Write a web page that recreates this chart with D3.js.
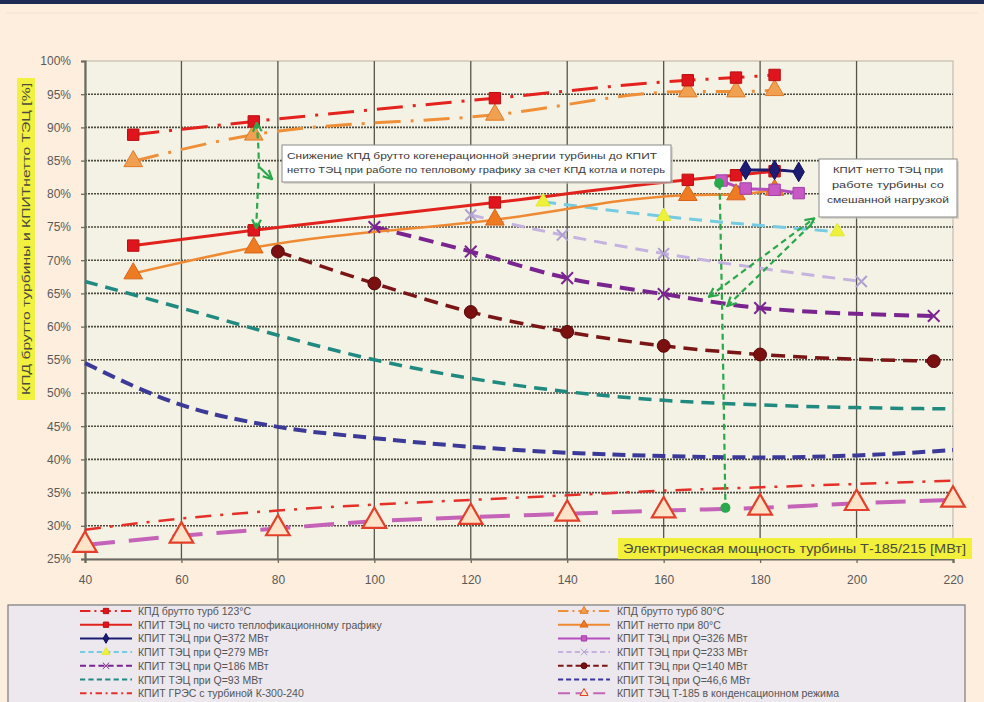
<!DOCTYPE html>
<html>
<head>
<meta charset="utf-8">
<script src="https://cdn.jsdelivr.net/npm/d3@7/dist/d3.min.js"></script>
<style>
  html, body { margin: 0; padding: 0; background: #fdeedd; }
  svg { display: block; font-family: "Liberation Sans", Arial, sans-serif; }
</style>
</head>
<body>
<svg id="chart" width="984" height="702"></svg>
<script>
// Electrical output of the T-185/215 turbine, MW (x-axis ticks)
const xTicks = [40, 60, 80, 100, 120, 140, 160, 180, 200, 220];
const yTicks = [0.25, 0.30, 0.35, 0.40, 0.45, 0.50, 0.55, 0.60, 0.65, 0.70, 0.75, 0.80, 0.85, 0.90, 0.95, 1.00];

// Gross turbine efficiency, 123°C
const grossX123 = [50, 75, 125, 165, 175, 183];
const grossY123 = [0.889, 0.909, 0.944, 0.971, 0.975, 0.979];
// Gross turbine efficiency, 80°C
const grossX80 = [50, 75, 125, 165, 175, 183];
const grossY80 = [0.849, 0.889, 0.919, 0.954, 0.954, 0.956];
// Net CHP efficiency, purely heat-driven schedule
const heatX = [50, 75, 125, 165, 175, 183];
const heatY = [0.722, 0.745, 0.787, 0.821, 0.828, 0.834];
// Net efficiency at 80°C
const net80X = [50, 75, 125, 165, 175, 183];
const net80Y = [0.680, 0.719, 0.761, 0.798, 0.799, 0.806];
// Q = 372 MW
const q372X = [177, 183, 188];
const q372Y = [0.836, 0.836, 0.833];
// Q = 326 MW
const q326X = [172, 177, 183, 188];
const q326Y = [0.820, 0.808, 0.806, 0.801];
// Q = 279 MW
const q279X = [135, 160, 196];
const q279Y = [0.788, 0.766, 0.743];
// Q = 233 MW
const q233X = [120, 139, 160, 201];
const q233Y = [0.768, 0.738, 0.710, 0.668];
// Q = 186 MW
const q186X = [100, 120, 140, 160, 180, 216];
const q186Y = [0.750, 0.713, 0.673, 0.649, 0.628, 0.616];
// Q = 140 MW
const q140X = [80, 100, 120, 140, 160, 180, 216];
const q140Y = [0.713, 0.665, 0.622, 0.592, 0.571, 0.558, 0.548];
// Q = 93 MW
const q93X = [40, 60, 80, 100, 120, 140, 160, 180, 200, 220];
const q93Y = [0.668, 0.628, 0.587, 0.550, 0.522, 0.502, 0.489, 0.482, 0.478, 0.476];
// Q = 46.6 MW
const q47X = [40, 60, 80, 100, 120, 140, 160, 180, 200, 220];
const q47Y = [0.545, 0.482, 0.449, 0.432, 0.419, 0.410, 0.405, 0.403, 0.406, 0.414];
// Condensing power plant, K-300-240 turbine
const grpsX = [40, 60, 80, 100, 120, 140, 160, 180, 200, 220];
const grpsY = [0.294, 0.311, 0.323, 0.332, 0.339, 0.346, 0.353, 0.358, 0.363, 0.368];
// T-185 in condensing mode
const condX = [40, 60, 80, 100, 120, 140, 160, 180, 200, 220];
const condY = [0.271, 0.285, 0.296, 0.307, 0.313, 0.318, 0.323, 0.327, 0.334, 0.339];

// Legend captions
const legendLeft = [
  "КПД брутто турб  123°С",
  "КПИТ ТЭЦ по чисто теплофикационному графику",
  "КПИТ ТЭЦ при Q=372 МВт",
  "КПИТ ТЭЦ при Q=279 МВт",
  "КПИТ ТЭЦ при Q=186 МВт",
  "КПИТ ТЭЦ при Q=93 МВт",
  "КПИТ ГРЭС с турбиной  К-300-240"
];
const legendRight = [
  "КПД брутто турб 80°С",
  "КПИТ нетто  при 80°С",
  "КПИТ ТЭЦ при Q=326 МВт",
  "КПИТ ТЭЦ при Q=233 МВт",
  "КПИТ ТЭЦ при Q=140 МВт",
  "КПИТ ТЭЦ при Q=46,6 МВт",
  "КПИТ ТЭЦ  Т-185 в конденсационном режима"
];

const yTitle = "КПД брутто турбины и КПИТнетто  ТЭЦ  [%]";
const xTitle = "Электрическая мощность турбины Т-185/215   [МВт]";
const note1 = ["Снижение  КПД брутто когенерационной энергии турбины до КПИТ",
               "нетто ТЭЦ  при работе по тепловому графику за счет КПД котла и потерь"];
const note2 = ["КПИТ нетто ТЭЦ при", "работе  турбины со", "смешанной нагрузкой"];

const zip = (xs, ys) => xs.map((x, i) => ({ x, y: ys[i] }));

// Series styles, drawn bottom to top
const series = [
  { name: legendLeft[6], pts: zip(grpsX, grpsY), color: "#e5302a", w: 2.5, dash: "16,9,3,9", sym: null },
  { name: legendRight[6], pts: zip(condX, condY), color: "#c563b8", w: 4, dash: "30,14", sym: "triangle", msize: 240, mfill: "#fde4c8", mstroke: "#e2402a" },
  { name: legendRight[5], pts: zip(q47X, q47Y), color: "#3c3a98", w: 4, dash: "13,7", sym: null },
  { name: legendLeft[5], pts: zip(q93X, q93Y), color: "#208a80", w: 3.5, dash: "13,8", sym: null },
  { name: legendRight[4], pts: zip(q140X, q140Y), color: "#7a1616", w: 3.5, dash: "14,8", sym: "circle", msize: 130, mfill: "#7a1010", mstroke: "#5a0808" },
  { name: legendLeft[4], pts: zip(q186X, q186Y), color: "#7a2490", w: 4, dash: "15,8", sym: "cross", msize: 90, mfill: "#9a40b0", mstroke: "#7a2490" },
  { name: legendRight[3], pts: zip(q233X, q233Y), color: "#c6b2e0", w: 3, dash: "13,8", sym: "cross", msize: 80, mfill: "#c6b2e0", mstroke: "#b0a0d0" },
  { name: legendLeft[3], pts: zip(q279X, q279Y), color: "#74cbe2", w: 3, dash: "13,8", sym: "triangle", msize: 90, mfill: "#eef03a", mstroke: "#e2e830" },
  { name: legendRight[1], pts: zip(net80X, net80Y), color: "#ef8a33", w: 2.5, dash: null, sym: "triangle", msize: 150, mfill: "#ee7a22", mstroke: "#d8661a" },
  { name: legendLeft[1], pts: zip(heatX, heatY), color: "#e2221c", w: 3, dash: null, sym: "square", msize: 130, mfill: "#e0141c", mstroke: "#b81010" },
  { name: legendRight[2], pts: zip(q326X, q326Y), color: "#b54cc0", w: 3, dash: null, sym: "square", msize: 130, mfill: "#c858c4", mstroke: "#a040a8" },
  { name: legendLeft[2], pts: zip(q372X, q372Y), color: "#1c1c72", w: 3, dash: null, sym: "diamond", msize: 110, mfill: "#1c1c72", mstroke: "#10105a" },
  { name: legendRight[0], pts: zip(grossX80, grossY80), color: "#ef9038", w: 3, dash: "26,10,3,10", sym: "triangle", msize: 150, mfill: "#f0a050", mstroke: "#e07a28" },
  { name: legendLeft[0], pts: zip(grossX123, grossY123), color: "#e4221e", w: 3, dash: "26,10,3,10", sym: "square", msize: 130, mfill: "#e0141c", mstroke: "#b81010" }
];

const svg = d3.select("#chart");
const W = 984, H = 702;
const plot = { left: 85, right: 953, top: 61, bottom: 559 };

const x = d3.scaleLinear().domain([40, 220]).range([plot.left, plot.right]);
const y = d3.scaleLinear().domain([0.25, 1.0]).range([plot.bottom, plot.top]);

// page background and header bar
svg.append("rect").attr("width", W).attr("height", H).attr("fill", "#fdeedd");
svg.append("rect").attr("width", W).attr("height", 4).attr("fill", "#1e2c55");
svg.append("line").attr("x1", 6).attr("x2", W - 6).attr("y1", 13).attr("y2", 13)
  .attr("stroke", "#f4e2cf").attr("stroke-width", 1);

// plot area
svg.append("rect")
  .attr("x", plot.left).attr("y", plot.top)
  .attr("width", plot.right - plot.left).attr("height", plot.bottom - plot.top)
  .attr("fill", "#f3f2e5").attr("stroke", "#b8b4a6").attr("stroke-width", 1);

// gridlines
const grid = svg.append("g");
grid.selectAll("line.h").data(yTicks.filter(t => t > 0.25 && t < 1.0)).join("line")
  .attr("x1", plot.left).attr("x2", plot.right)
  .attr("y1", d => y(d)).attr("y2", d => y(d))
  .attr("stroke", "#4a4a3e").attr("stroke-width", 1.6).attr("stroke-dasharray", "2,1");
grid.selectAll("line.v").data(xTicks.filter(t => t > 40 && t < 220)).join("line")
  .attr("x1", d => x(d)).attr("x2", d => x(d))
  .attr("y1", plot.top).attr("y2", plot.bottom)
  .attr("stroke", "#55554a").attr("stroke-width", 1.3);

// axes
const yAxis = svg.append("g").attr("transform", `translate(${plot.left},0)`)
  .call(d3.axisLeft(y).tickValues(yTicks).tickFormat(d3.format(".0%")).tickSize(4).tickPadding(10));
const xAxis = svg.append("g").attr("transform", `translate(0,${plot.bottom})`)
  .call(d3.axisBottom(x).tickValues(xTicks).tickSize(4).tickPadding(12));
[xAxis, yAxis].forEach(a => {
  a.select(".domain").attr("stroke", "#6a6a62").attr("stroke-width", 2.2);
  a.selectAll(".tick line").attr("stroke", "#6a6a62").attr("stroke-width", 1.3);
  a.selectAll(".tick text").attr("fill", "#5a5a5a").attr("font-size", 12)
    .attr("font-family", "'Liberation Sans Narrow', 'Liberation Sans', Arial, sans-serif");
});

// x-axis title on yellow band
svg.append("rect").attr("x", 618).attr("y", 538).attr("width", 354).attr("height", 21).attr("fill", "#f2f03a");
svg.append("text").attr("x", 623).attr("y", 553).attr("font-size", 12).attr("fill", "#4a4a40")
  .attr("textLength", 343).attr("lengthAdjust", "spacingAndGlyphs").text(xTitle);

// y-axis title on yellow band
svg.append("rect").attr("x", 17).attr("y", 78).attr("width", 18).attr("height", 322).attr("fill", "#f2f040");
svg.append("text").attr("transform", "translate(30,239) rotate(-90)")
  .attr("text-anchor", "middle").attr("font-size", 11.5).attr("fill", "#4a4a40")
  .attr("textLength", 312).attr("lengthAdjust", "spacingAndGlyphs").text(yTitle);

// series
const symType = { triangle: d3.symbolTriangle, square: d3.symbolSquare, circle: d3.symbolCircle, diamond: d3.symbolDiamond, cross: d3.symbolTimes };
const line = d3.line().x(d => x(d.x)).y(d => y(d.y)).curve(d3.curveMonotoneX);
const seriesG = svg.append("g");
series.forEach(s => {
  seriesG.append("path").datum(s.pts)
    .attr("d", line).attr("fill", "none")
    .attr("stroke", s.color).attr("stroke-width", s.w)
    .attr("stroke-dasharray", s.dash).attr("stroke-linecap", "butt");
});

// annotation arrows (green, dashed)
const ann = svg.append("g");
const green = "#2aa84a";
const defs = svg.append("defs");
defs.append("marker").attr("id", "ga").attr("viewBox", "0 0 10 10").attr("refX", 9).attr("refY", 5)
  .attr("markerWidth", 5).attr("markerHeight", 5).attr("orient", "auto-start-reverse")
  .append("path").attr("d", "M1,1 L9,5 L1,9").attr("fill", "none").attr("stroke", green).attr("stroke-width", 2);
ann.append("path").datum([[75.6, 0.907], [76.2, 0.85], [75.8, 0.80], [75.5, 0.748]])
  .attr("d", d3.line().x(d => x(d[0])).y(d => y(d[1])).curve(d3.curveBasis))
  .attr("fill", "none").attr("stroke", green).attr("stroke-width", 2.2).attr("stroke-dasharray", "6,4")
  .attr("marker-start", "url(#ga)").attr("marker-end", "url(#ga)");
ann.append("path").datum([[76.2, 0.84], [78.8, 0.822]])
  .attr("d", d3.line().x(d => x(d[0])).y(d => y(d[1])))
  .attr("fill", "none").attr("stroke", green).attr("stroke-width", 2.2)
  .attr("marker-end", "url(#ga)");
ann.append("path").datum([[171.6, 0.815], [172.2, 0.60], [172.8, 0.33]])
  .attr("d", d3.line().x(d => x(d[0])).y(d => y(d[1])))
  .attr("fill", "none").attr("stroke", green).attr("stroke-width", 2.2).attr("stroke-dasharray", "6,4");
ann.append("path").datum([[169.4, 0.645], [191.2, 0.763]])
  .attr("d", d3.line().x(d => x(d[0])).y(d => y(d[1])))
  .attr("fill", "none").attr("stroke", green).attr("stroke-width", 2.2).attr("stroke-dasharray", "6,4")
  .attr("marker-start", "url(#ga)").attr("marker-end", "url(#ga)");
ann.append("path").datum([[173.2, 0.631], [191.2, 0.758]])
  .attr("d", d3.line().x(d => x(d[0])).y(d => y(d[1])))
  .attr("fill", "none").attr("stroke", green).attr("stroke-width", 2.2).attr("stroke-dasharray", "6,4")
  .attr("marker-start", "url(#ga)");
ann.selectAll("circle").data([[171.5, 0.816], [172.8, 0.327]]).join("circle")
  .attr("cx", d => x(d[0])).attr("cy", d => y(d[1])).attr("r", 5).attr("fill", green);

// markers
series.forEach(s => {
  if (!s.sym) return;
  const g = seriesG.append("g");
  const shape = d3.symbol().type(symType[s.sym]).size(s.msize);
  g.selectAll("path").data(s.pts).join("path")
    .attr("transform", d => `translate(${x(d.x)},${y(d.y)})`)
    .attr("d", shape)
    .attr("fill", s.sym === "cross" ? "none" : s.mfill)
    .attr("stroke", s.mstroke).attr("stroke-width", s.sym === "cross" ? 2 : (s.sym === "triangle" && s.msize > 200 ? 2.2 : 1));
});

// note boxes
function noteBox(bx, by, bw, bh, lines, anchor, fs, lh, tl) {
  const g = svg.append("g");
  g.append("rect").attr("x", bx + 2).attr("y", by + 2).attr("width", bw).attr("height", bh).attr("fill", "#c8c4bc").attr("opacity", 0.6);
  g.append("rect").attr("x", bx).attr("y", by).attr("width", bw).attr("height", bh)
    .attr("fill", "#ffffff").attr("stroke", "#8a8a8a").attr("stroke-width", 1);
  lines.forEach((t, i) => {
    const tx = anchor === "middle" ? bx + bw / 2 : bx + 5;
    const el = g.append("text").attr("x", tx).attr("y", by + 14 + i * lh)
      .attr("font-size", fs).attr("fill", "#3a3a3a").attr("text-anchor", anchor).text(t);
    if (tl) el.attr("textLength", tl[i]).attr("lengthAdjust", "spacingAndGlyphs");
  });
}
noteBox(282, 145, 389, 37, note1, "start", 9.5, 14, [370, 378]);
noteBox(819, 159, 138, 58, note2, "middle", 9.5, 15, [110, 112, 122]);

// legend
const lg = svg.append("g");
lg.append("rect").attr("x", 8).attr("y", 605).attr("width", 957).attr("height", 100)
  .attr("fill", "#ece8ee").attr("stroke", "#7a7a7a").attr("stroke-width", 1.2);
const legendSeries = name => series.find(s => s.name === name);
function legendCol(names, x0, tx) {
  names.forEach((n, i) => {
    const s = legendSeries(n);
    const yy = 611 + i * 13.7;
    lg.append("line").attr("x1", x0).attr("x2", x0 + 52).attr("y1", yy).attr("y2", yy)
      .attr("stroke", s.color).attr("stroke-width", 2)
      .attr("stroke-dasharray", s.dash ? s.dash.split(",").map(v => Math.max(2, +v / 2.5)).join(",") : null);
    if (s.sym) {
      lg.append("path").attr("transform", `translate(${x0 + 26},${yy})`)
        .attr("d", d3.symbol().type(symType[s.sym]).size(28))
        .attr("fill", s.sym === "cross" ? "none" : s.mfill)
        .attr("stroke", s.mstroke).attr("stroke-width", 1);
    }
    lg.append("text").attr("x", tx).attr("y", yy + 4).attr("font-size", 10.5).attr("fill", "#555")
      .text(n);
  });
}
legendCol(legendLeft, 80, 138);
legendCol(legendRight, 558, 617);
</script>
</body>
</html>
